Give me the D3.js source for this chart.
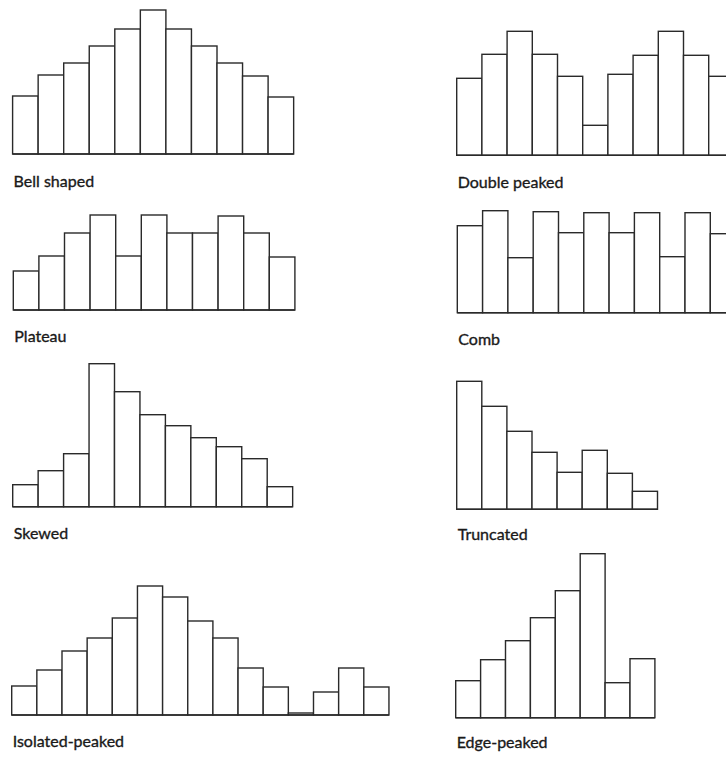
<!DOCTYPE html>
<html>
<head>
<meta charset="utf-8">
<script src="https://cdn.jsdelivr.net/npm/d3@7"></script>
<style>
  html, body { margin: 0; padding: 0; background: #fff; overflow: hidden; }
  svg { display: block; }
  .lbl { font-family: Lato, "Noto Sans", sans-serif; font-size: 16px; fill: #1a1a1a; stroke: #1a1a1a; stroke-width: 0.35px; }
</style>
</head>
<body>
<svg id="chart" width="726" height="758"></svg>
<script>
// ---- data (bar heights) ----
const bellShaped     = [58, 79, 91, 108, 125, 144, 125, 108, 91, 78, 57];
const doublePeaked   = [77, 101, 124, 101, 79, 30, 81, 100, 124, 100, 79];
const plateau        = [39, 54, 77, 95, 54, 95, 77, 77, 94, 77, 53];
const comb           = [87, 102, 55, 101, 80, 100, 80, 100, 56, 100, 79];
const skewed         = [22, 36, 53, 143, 115, 92, 81, 69, 60, 48, 20];
const truncated      = [128, 103, 78, 57, 37, 59, 36, 18];
const isolatedPeaked = [29, 45, 64, 77, 97, 129, 118, 94, 77, 47, 28, 2, 23, 47, 28];
const edgePeaked     = [37, 58, 77, 100, 127, 164, 35, 59];
const panelLabels    = ["Bell shaped", "Double peaked", "Plateau", "Comb",
                        "Skewed", "Truncated", "Isolated-peaked", "Edge-peaked"];
const panelSeries    = [bellShaped, doublePeaked, plateau, comb,
                        skewed, truncated, isolatedPeaked, edgePeaked];

// ---- layout ----
const layout = [
  {x0: 12.6,  bw: 25.55, base: 154.0, ly: 186.5},
  {x0: 456.7, bw: 25.2,  base: 155.3, ly: 188.0},
  {x0: 13.3,  bw: 25.6,  base: 310.0, ly: 342.0},
  {x0: 457.3, bw: 25.3,  base: 312.7, ly: 344.5},
  {x0: 12.7,  bw: 25.45, base: 506.7, ly: 538.5},
  {x0: 456.7, bw: 25.1,  base: 509.3, ly: 540.0},
  {x0: 11.7,  bw: 25.15, base: 715.0, ly: 746.5},
  {x0: 455.7, bw: 24.9,  base: 717.7, ly: 748.0}
];

const svg = d3.select("#chart");
const stroke = "#2a2a2a";

panelSeries.forEach((vals, i) => {
  const L = layout[i];
  const n = vals.length;
  const x = d3.scaleBand().domain(d3.range(n)).range([L.x0, L.x0 + n * L.bw]).padding(0);
  const y = d3.scaleLinear().domain([0, 170]).range([L.base, L.base - 170]);
  const g = svg.append("g");

  g.selectAll("rect").data(vals).join("rect")
    .attr("x", (d, j) => x(j))
    .attr("y", d => y(d))
    .attr("width", x.bandwidth())
    .attr("height", d => y(0) - y(d))
    .attr("fill", "#fff")
    .attr("stroke", stroke)
    .attr("stroke-width", 1.4);

  g.append("line")
    .attr("x1", x.range()[0]).attr("x2", x.range()[1])
    .attr("y1", y(0)).attr("y2", y(0))
    .attr("stroke", stroke).attr("stroke-width", 1.6);

  g.append("text")
    .attr("class", "lbl")
    .attr("x", L.x0 + 1)
    .attr("y", L.ly)
    .text(panelLabels[i]);
});
</script>
</body>
</html>
